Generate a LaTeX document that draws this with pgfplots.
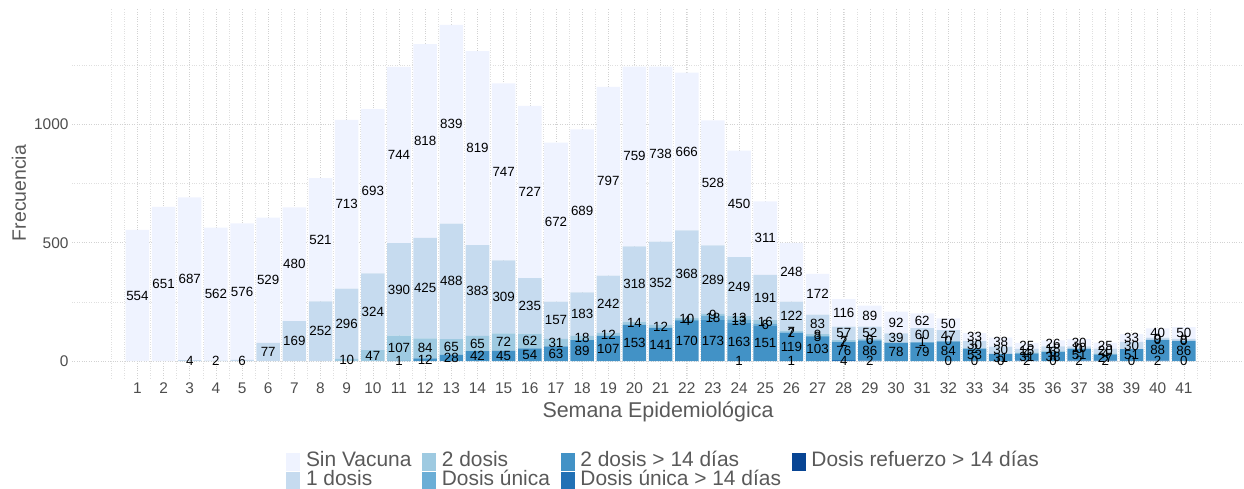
\documentclass[border=0pt]{standalone}
\usepackage{pgfplots}
\usepackage{pgfplotstable}
\pgfplotsset{compat=1.18}
\usepackage{fontspec}
\setmainfont{Liberation Sans}
\definecolor{csv}{HTML}{EFF3FF}
\definecolor{cdA}{HTML}{C6DBEF}
\definecolor{cdB}{HTML}{9ECAE1}
\definecolor{cu}{HTML}{6BAED6}
\definecolor{cdC}{HTML}{4292C6}
\definecolor{cuC}{HTML}{2171B5}
\definecolor{cr}{HTML}{084594}
\definecolor{tick}{HTML}{4D4D4D}
\definecolor{txt}{HTML}{595959}
\newcommand\legsq[1]{\addlegendimage{legend image code/.code={\fill[#1] (0bp,-8.5bp) rectangle (13bp,8.5bp);}}}

\pgfplotstableread{
w sv d1 d2 u d14 u14 r
1 554 0 0 0 0 0 0
2 651 0 0 0 0 0 0
3 687 4 0 0 0 0 0
4 562 2 0 0 0 0 0
5 576 6 0 0 0 0 0
6 529 77 0 0 0 0 0
7 480 169 0 0 0 0 0
8 521 252 0 0 0 0 0
9 713 296 10 0 0 0 0
10 693 324 47 0 0 0 0
11 744 390 107 0 1 0 0
12 818 425 84 0 12 0 0
13 839 488 65 0 28 0 0
14 819 383 65 0 42 0 0
15 747 309 72 0 45 0 0
16 727 235 62 0 54 0 0
17 672 157 31 0 63 0 0
18 689 183 18 0 89 0 0
19 797 242 12 0 107 0 0
20 759 318 14 0 153 0 0
21 738 352 12 0 141 0 0
22 666 368 10 4 170 0 0
23 528 289 9 18 173 0 0
24 450 249 13 13 163 1 0
25 311 191 16 6 151 0 0
26 248 122 7 2 119 1 0
27 172 83 8 3 103 0 0
28 116 57 7 2 76 4 0
29 89 52 6 0 86 2 0
30 92 39 0 0 78 0 0
31 62 60 1 0 79 0 0
32 50 47 0 0 84 0 0
33 33 30 2 0 53 0 0
34 38 30 0 0 31 0 0
35 25 15 4 0 31 2 0
36 26 18 6 0 38 0 0
37 30 10 0 0 51 2 0
38 25 20 4 0 27 2 0
39 33 30 0 0 51 0 0
40 40 9 0 0 88 2 0
41 50 8 0 0 86 0 0
}\data

\pgfplotstableread{
w y
29 88
32 84
32 0
33 0
34 0
36 0
37 53
39 0
40 90
41 86
41 0
}\zeros

\begin{document}
\begin{tikzpicture}
\path[use as bounding box] (0,0) rectangle (1244bp,489bp);
\begin{axis}[
  at={(72bp,111bp)}, anchor=south west,
  scale only axis, width=1172bp, height=370bp,
  xmin=-1.5, xmax=43.3, ymin=-71, ymax=1491,
  ybar stacked, bar width=0.9,
  xtick={1,...,41}, minor xtick={0,0.5,...,42},
  ytick={0,500,1000}, minor ytick={250,750,1250},
  grid=both,
  major grid style={dotted, gray!35, line width=0.6bp},
  minor grid style={dotted, gray!25, line width=0.5bp},
  axis line style={draw=none},
  major tick length=0pt, minor tick length=0pt,
  tick style={draw=none},
  ticklabel style={font=\fontsize{15.5}{15.5}\selectfont, text=tick},
  xticklabel style={yshift=-1.5bp},
  /pgf/number format/assume math mode=true,
  /pgf/number format/1000 sep={},
  xlabel={Semana Epidemiológica}, ylabel={Frecuencia},
  every axis x label/.style={at={(axis description cs:0.5,-0.092)}, anchor=center, font=\fontsize{21.5}{21.5}\selectfont, text=txt},
  every axis y label/.style={at={(axis description cs:-0.0452,0.5)}, rotate=90, anchor=center, font=\fontsize{19.5}{19.5}\selectfont, text=txt},
  legend columns=4,
  legend cell align=left,
  legend style={at={(axis description cs:0.504,-0.2514)}, anchor=center, draw=none, fill=none,
    font=\fontsize{21}{21}\selectfont, text=txt,
    nodes={inner sep=0.5bp, text height=14bp, text depth=4bp},
    /tikz/every odd column/.append style={column sep=6bp},
    /tikz/every even column/.append style={column sep=10bp}},
]
\addplot[fill=cr, draw=none, forget plot] table[x=w,y=r]{\data};
\addplot[fill=cuC, draw=none, forget plot] table[x=w,y=u14]{\data};
\addplot[fill=cdC, draw=none, forget plot] table[x=w,y=d14]{\data};
\addplot[fill=cu, draw=none, forget plot] table[x=w,y=u]{\data};
\addplot[fill=cdB, draw=none, forget plot] table[x=w,y=d2]{\data};
\addplot[fill=cdA, draw=none, forget plot] table[x=w,y=d1]{\data};
\addplot[fill=csv, draw=none, forget plot] table[x=w,y=sv]{\data};
\legsq{csv}\addlegendentry{Sin Vacuna}
\legsq{cdB}\addlegendentry{2 dosis}
\legsq{cdC}\addlegendentry{2 dosis > 14 días}
\legsq{cr}\addlegendentry{Dosis refuerzo > 14 días}
\legsq{cdA}\addlegendentry{1 dosis}
\legsq{cu}\addlegendentry{Dosis única}
\legsq{cuC}\addlegendentry{Dosis única > 14 días}
\end{axis}
\begin{axis}[
  at={(72bp,111bp)}, anchor=south west,
  scale only axis, width=1172bp, height=370bp,
  xmin=-1.5, xmax=43.3, ymin=-71, ymax=1491,
  hide axis, clip=false,
  /pgf/number format/assume math mode=true,
  /pgf/number format/1000 sep={},
  nodes near coords, point meta=explicit,
  every node near coord/.append style={anchor=center, font=\fontsize{13.4}{13.4}\selectfont, text=black, inner sep=0pt},
  only marks, mark=*, mark size=0pt, mark options={draw=none, fill=none},
]
\addplot table[x=w, y expr={\thisrow{sv}>0 ? \thisrow{r}+\thisrow{u14}+\thisrow{d14}+\thisrow{u}+\thisrow{d2}+\thisrow{d1}+0.5*\thisrow{sv} : nan}, meta=sv]{\data};
\addplot table[x=w, y expr={\thisrow{d1}>0 ? \thisrow{r}+\thisrow{u14}+\thisrow{d14}+\thisrow{u}+\thisrow{d2}+0.5*\thisrow{d1} : nan}, meta=d1]{\data};
\addplot table[x=w, y expr={\thisrow{d2}>0 ? \thisrow{r}+\thisrow{u14}+\thisrow{d14}+\thisrow{u}+0.5*\thisrow{d2} : nan}, meta=d2]{\data};
\addplot table[x=w, y expr={\thisrow{u}>0 ? \thisrow{r}+\thisrow{u14}+\thisrow{d14}+0.5*\thisrow{u} : nan}, meta=u]{\data};
\addplot table[x=w, y expr={\thisrow{d14}>0 ? \thisrow{r}+\thisrow{u14}+0.5*\thisrow{d14} : nan}, meta=d14]{\data};
\addplot table[x=w, y expr={\thisrow{u14}>0 ? \thisrow{r}+0.5*\thisrow{u14} : nan}, meta=u14]{\data};
\addplot table[x=w, y=y, meta expr=0]{\zeros};
\end{axis}
\end{tikzpicture}
\end{document}
